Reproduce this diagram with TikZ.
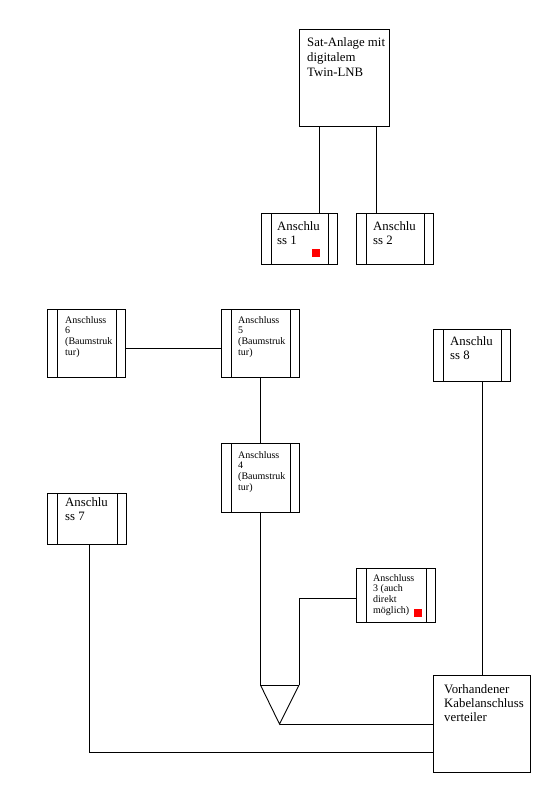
\documentclass[tikz,border=0pt]{standalone}
\usepackage{fontspec}
\setmainfont{Liberation Serif}
\tikzset{
  box/.style={draw, line width=0.9pt, inner sep=0pt, anchor=north west},
  dbox/.style={box, path picture={
     \draw[line width=0.9pt] ([xshift=9.5pt]path picture bounding box.north west) -- ([xshift=9.5pt]path picture bounding box.south west);
     \draw[line width=0.9pt] ([xshift=-9pt]path picture bounding box.north east) -- ([xshift=-9pt]path picture bounding box.south east);}},
  big/.style={font=\fontsize{12.8}{14.5}\selectfont, align=left, anchor=north west, inner sep=0pt},
  small/.style={font=\fontsize{10}{10.8}\selectfont, align=left, anchor=north west, inner sep=0pt},
  conn/.style={line width=0.9pt},
  redsq/.style={fill=red, draw=none, inner sep=0pt, minimum size=7.5pt, anchor=north west}
}
\begin{document}
\begin{tikzpicture}[x=1pt,y=-1pt]
\useasboundingbox (0,0) rectangle (548,792);
% boxes
\node[box, minimum width=90pt, minimum height=97pt] (sat) at (299,29) {};
\node[dbox, minimum width=76pt, minimum height=51pt] (a1) at (261,213) {};
\node[dbox, minimum width=77pt, minimum height=51pt] (a2) at (356,213) {};
\node[dbox, minimum width=78pt, minimum height=68pt] (a6) at (47,309) {};
\node[dbox, minimum width=78pt, minimum height=68pt] (a5) at (221,309) {};
\node[dbox, minimum width=78pt, minimum height=69pt] (a4) at (221,443) {};
\node[dbox, minimum width=79pt, minimum height=54pt] (a3) at (356,568) {};
\node[dbox, minimum width=79pt, minimum height=51pt] (a7) at (47,493) {};
\node[dbox, minimum width=77pt, minimum height=52pt] (a8) at (433,329) {};
\node[box, minimum width=97pt, minimum height=97pt] (vt) at (433,675) {};
% texts
\node[big, font=\fontsize{12.8}{15}\selectfont] (tsat) at (307,37) {Sat-Anlage mit\\digitalem\\Twin-LNB};
\node[big] (t1) at (277,221) {Anschlu\\ss 1};
\node[big] (t2) at (373,221) {Anschlu\\ss 2};
\node[big] (t7) at (65,497) {Anschlu\\ss 7};
\node[big] (t8) at (450,336) {Anschlu\\ss 8};
\node[big, font=\fontsize{12.8}{14}\selectfont] (tvt) at (444,684) {Vorhandener\\Kabelanschluss\\verteiler};
\node[small] (t6) at (65,316) {Anschluss\\6\\(Baumstruk\\tur)};
\node[small] (t5) at (238,316) {Anschluss\\5\\(Baumstruk\\tur)};
\node[small] (t4) at (238,451) {Anschluss\\4\\(Baumstruk\\tur)};
\node[small] (t3) at (373,574) {Anschluss\\3 (auch\\direkt\\möglich)};
\node[redsq] (r1) at (312,249) {};
\node[redsq] (r3) at (414,609) {};
% funnel coordinates
\coordinate (fl) at (260.5,685);
\coordinate (fr) at (299,685);
\coordinate (apex) at (279.5,724);
% connectors
\draw[conn] ([xshift=-18.5pt]a1.north east) -- ([xshift=-18.5pt]a1.north east |- sat.south);
\draw[conn] ([xshift=20.5pt]a2.north west) -- ([xshift=20.5pt]a2.north west |- sat.south);
\draw[conn] ([yshift=-5pt]a6.east) -- ([yshift=-5pt]a6.east -| a5.west);
\draw[conn] (a5.south) -- (a4.north);
\draw[conn, line join=miter] (a4.south) -- (a4.south |- fl) -- (fr);
\draw[conn] (a4.south |- fl) -- (apex) -- (fr);
\draw[conn] ([yshift=-2.5pt]a3.west) -| (fr);
\draw[conn] (apex) -- (apex -| vt.west);
\draw[conn] ([xshift=2.5pt]a7.south) |- ([yshift=-28.5pt]vt.west);
\draw[conn] ([xshift=10.5pt]a8.south) -- ([xshift=10.5pt]a8.south |- vt.north);
\end{tikzpicture}
\end{document}
